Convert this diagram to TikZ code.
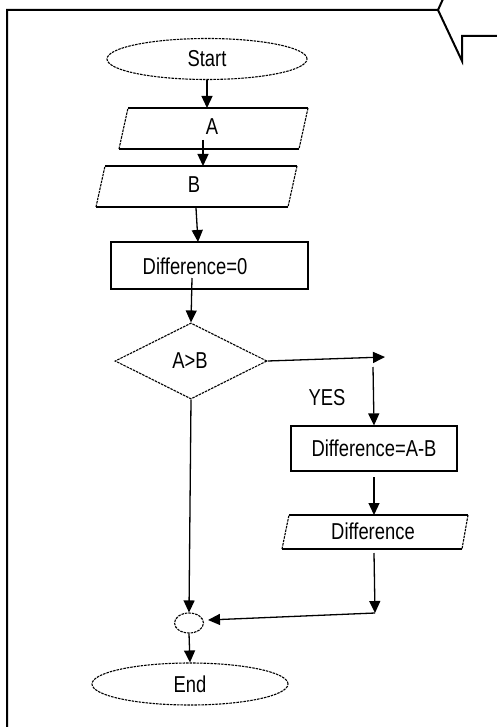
\documentclass[tikz,border=0pt]{standalone}
\usepackage{fontspec}
\setmainfont{Liberation Sans}[FakeStretch=0.8]
\usetikzlibrary{arrows.meta,shapes.geometric}
\begin{document}
\begin{tikzpicture}[x=1pt,y=-1pt,
  arr/.style={-{Triangle[length=12pt,width=11pt]}, line width=1.3pt},
  dsh/.style={draw, line width=1.1pt, dash pattern=on 2.5pt off 1pt},
  solidline/.style={line width=1.3pt},
  box/.style={draw, line width=1.2pt, inner sep=0pt},
  txt/.style={font=\fontsize{23}{25}\selectfont, inner sep=0pt},
  frame/.style={line width=2pt, line join=miter}]
\useasboundingbox (0,0) rectangle (496,727);
% page frame
\draw[frame] (7,727) -- (7,10) -- (438,10) -- (443,-1);
\draw[frame] (438,10) -- (462,61) -- (462,36) -- (497,36);
% Start
\node[ellipse, dsh, minimum width=200pt, minimum height=41pt, inner sep=0pt, txt] (start) at (207,59) {Start};
% A parallelogram
\draw[solidline] (128,108) -- (308,108) (299,149) -- (119,149);
\draw[dsh] (308,108) -- (299,149) (119,149) -- (128,108);
\node[txt] (a) at (212,127) {A};
\coordinate (atop) at (207,108);
\coordinate (aout) at (203,140);
% B parallelogram
\draw[solidline] (105,166) -- (297,166) (288,207) -- (96,207);
\draw[dsh] (297,166) -- (288,207) (96,207) -- (105,166);
\node[txt] (b) at (194,185) {B};
\coordinate (btop) at (203,166);
\coordinate (bout) at (196,208);
% Difference=0
\node[box, minimum width=197pt, minimum height=47pt] (d0) at (209.5,265.5) {};
\node[txt] (d0t) at (195,266) {Difference=0};
\coordinate (d0in) at (198,242);
\coordinate (d0out) at (192,278);
% decision
\node[diamond, dsh, aspect=2, minimum width=152pt, minimum height=76pt, inner sep=0pt] (dec) at (191,361) {};
\node[txt] (dect) at (190,361) {A>B};
\coordinate (yestip) at (385,357);
\coordinate (yesdown) at (373,367);
\node[txt] (yes) at (327,398) {YES};
% Difference=A-B
\node[box, minimum width=166pt, minimum height=45pt] (dab) at (374,448.5) {};
\node[txt] (dabt) at (374,448) {Difference=A-B};
\coordinate (dabout) at (374,477);
% Difference output
\draw[solidline] (289,515) -- (468,515) (462,549) -- (282,549);
\draw[dsh] (468,515) -- (462,549) (282,549) -- (289,515);
\node[txt] (dif) at (373,531) {Difference};
\coordinate (diftop) at (374,515);
\coordinate (difout) at (374,553);
\coordinate (corner) at (375,613);
\coordinate (jin) at (208,620);
% connector
\node[ellipse, dsh, minimum width=29pt, minimum height=20pt, inner sep=0pt] (circ) at (189,623) {};
% End
\node[ellipse, dsh, minimum width=196pt, minimum height=42pt, inner sep=0pt, txt] (endn) at (190,684) {End};
% connectors
\draw[arr] (start.south) -- (atop);
\draw[arr] (aout) -- (btop);
\draw[arr] (bout) -- (d0in);
\draw[arr] (d0out) -- (dec.north);
\draw[arr] (dec.east) -- (yestip);
\draw[arr] (yesdown) -- (dab.north);
\draw[arr] (dabout) -- (diftop);
\draw[arr] (difout) -- (corner);
\draw[arr] (corner) -- (jin);
\draw[arr] (dec.south) -- (circ.north);
\draw[arr] (circ.south) -- (endn.north);
\end{tikzpicture}
\end{document}
